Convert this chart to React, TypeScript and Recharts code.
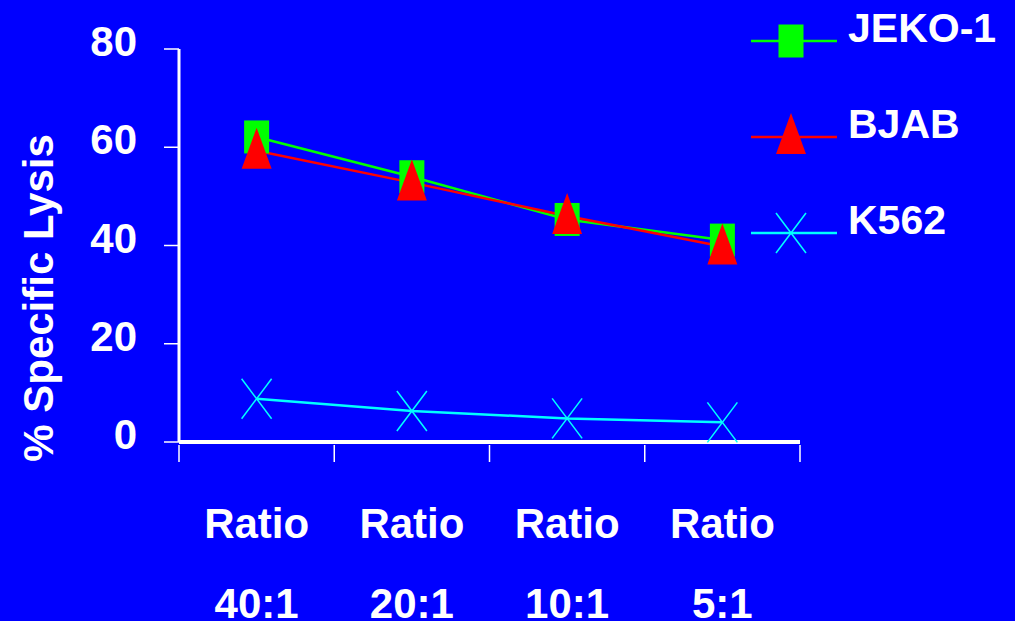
import React from 'react';
import { LineChart, Line, XAxis, YAxis, Legend } from 'recharts';

const categories = ['40:1', '20:1', '10:1', '5:1'];
const categoryPrefix = 'Ratio';
const jekoValues = [62.1, 54.0, 45.3, 41.1];
const bjabValues = [59.3, 52.8, 46.0, 39.8];
const k562Values = [8.8, 6.3, 4.8, 4.0];
const yTicks = [0, 20, 40, 60, 80];
const seriesNames = ['JEKO-1', 'BJAB', 'K562'];
const seriesKeys = ['jeko', 'bjab', 'k562'];
const seriesColors = ['#00FF00', '#FF0000', '#00FFFF'];
const yLabel = '% Specific Lysis';

const data = categories.map((c, i) => ({
  x: i + 0.5,
  label: c,
  jeko: jekoValues[i],
  bjab: bjabValues[i],
  k562: k562Values[i],
}));

const xTicks: number[] = [];
for (let i = 0; i <= categories.length; i++) {
  xTicks.push(i);
  if (i < categories.length) xTicks.push(i + 0.5);
}

const FONT = "'Liberation Sans', Arial, Helvetica, sans-serif";
const BG = '#0000FF';

const Square = ({ cx, cy, color }: any) => (
  <rect x={cx - 12.5} y={cy - 16.5} width={25} height={33} fill={color} />
);
const Triangle = ({ cx, cy, color }: any) => (
  <polygon points={`${cx},${cy - 23} ${cx - 15},${cy + 18} ${cx + 15},${cy + 18}`} fill={color} />
);
const Cross = ({ cx, cy, color }: any) => (
  <g stroke={color} strokeWidth={1.5}>
    <line x1={cx - 15} y1={cy - 20} x2={cx + 15} y2={cy + 20} />
    <line x1={cx + 15} y1={cy - 20} x2={cx - 15} y2={cy + 20} />
  </g>
);
const markers = [Square, Triangle, Cross];

const makeDot = (idx: number) => (props: any) => {
  const M = markers[idx];
  if (props.cx == null || props.cy == null) return <g key={`e${idx}-${props.index}`} />;
  return <M key={`d${idx}-${props.index}`} cx={props.cx} cy={props.cy} color={seriesColors[idx]} />;
};

const XTick = (props: any) => {
  const { x, y, payload } = props;
  const v = payload.value;
  if (Number.isInteger(v)) {
    return <line x1={x} y1={y + 3} x2={x} y2={y + 20} stroke="#fff" strokeWidth={1.5} />;
  }
  const label = categories[Math.floor(v)];
  return (
    <g fontFamily={FONT} fontWeight="bold" fontSize={42} fill="#fff">
      <text x={x} y={y + 96} textAnchor="middle">{categoryPrefix}</text>
      <text x={x} y={y + 176} textAnchor="middle">{label}</text>
    </g>
  );
};

const YTick = (props: any) => {
  const { x, y, payload } = props;
  return (
    <text x={x} y={y + 7} textAnchor="end" fontFamily={FONT} fontWeight="bold" fontSize={42} fill="#fff">
      {payload.value}
    </text>
  );
};

const renderLegend = (props: any) => {
  const payload = [...(props.payload || [])].sort(
    (a: any, b: any) => seriesNames.indexOf(a.value) - seriesNames.indexOf(b.value)
  );
  return (
    <svg width={265} height={270}>
      {payload.map((p: any, i: number) => {
        let idx = seriesNames.indexOf(p.value);
        if (idx < 0) idx = i;
        const M = markers[idx];
        const ly = 41 + 96 * i;
        return (
          <g key={p.value}>
            <line x1={1} y1={ly} x2={87} y2={ly} stroke={seriesColors[idx]} strokeWidth={2.5} />
            <M cx={41} cy={idx === 1 ? ly - 1 : ly} color={seriesColors[idx]} />
            <text x={98} y={ly + 1} fontFamily={FONT} fontWeight="bold" fontSize={41} fill="#fff">
              {seriesNames[idx]}
            </text>
          </g>
        );
      })}
    </svg>
  );
};

export default function App() {
  return (
    <div style={{ position: 'absolute', left: 0, top: 0, width: 1015, height: 621, background: BG, overflow: 'hidden' }}>
      <LineChart width={1015} height={621} data={data} margin={{ top: 49, right: 215, bottom: 0, left: 0 }}>
        <XAxis
          dataKey="x"
          type="number"
          domain={[0, categories.length]}
          ticks={xTicks}
          interval={0}
          height={179}
          tickSize={0}
          tickMargin={0}
          tickLine={false}
          axisLine={{ stroke: '#fff', strokeWidth: 4 }}
          tick={<XTick />}
        />
        <YAxis
          type="number"
          domain={[0, 80]}
          ticks={yTicks}
          interval={0}
          width={179}
          tickSize={15}
          tickMargin={27}
          axisLine={{ stroke: '#fff', strokeWidth: 3 }}
          tickLine={{ stroke: '#fff', strokeWidth: 1.5 }}
          tick={<YTick />}
          label={{
            value: yLabel,
            content: () => (
              <text
                x={53}
                y={298}
                transform="rotate(-90, 53, 298)"
                textAnchor="middle"
                fontFamily={FONT}
                fontWeight="bold"
                fontSize={42}
                fill="#fff"
              >
                {yLabel}
              </text>
            ),
          }}
        />
        <Legend
          layout="vertical"
          align="center"
          verticalAlign="middle"
          content={renderLegend}
          wrapperStyle={{ position: 'absolute', left: 750, top: 0, width: 265, height: 270 }}
        />
        {seriesKeys.map((k, i) => (
          <Line
            key={k}
            dataKey={k}
            name={seriesNames[i]}
            stroke={seriesColors[i]}
            strokeWidth={2.5}
            dot={makeDot(i)}
            activeDot={false}
            isAnimationActive={false}
            type="linear"
          />
        ))}
      </LineChart>
    </div>
  );
}
